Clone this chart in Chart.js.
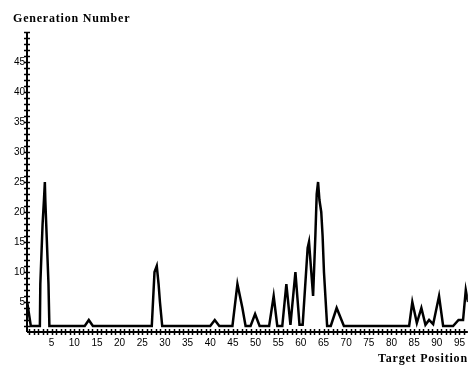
<!DOCTYPE html>
<html>
<head>
<meta charset="utf-8">
<script src="https://cdn.jsdelivr.net/npm/chart.js@4/dist/chart.umd.min.js"></script>
<style>
  html, body { margin: 0; padding: 0; background: #fff; }
  #wrap { width: 470px; height: 369px; position: relative; }
</style>
</head>
<body>
<div id="wrap"><canvas id="chart"></canvas></div>
<script>
// Target position (x) and generation number (y)
const positions = [
    -0.4, 0.4, 2.4, 2.5, 3.0, 3.3, 3.5, 3.6, 3.8, 4.3, 4.5,
    12.3, 13.2, 14.1,
    27.1, 27.3, 27.7, 28.2, 28.6, 28.9, 29.4,
    40.0, 41.0, 42.0,
    44.9, 46.0, 47.1, 47.8,
    48.9, 49.9, 50.9,
    53.0, 54.0, 54.8,
    55.9, 56.8, 57.7, 58.8, 59.7, 60.4, 61.5, 61.8, 62.7, 63.2, 63.5, 63.8, 64.1, 64.5, 64.8, 65.1, 65.8,
    66.6, 67.9, 69.5,
    83.9, 84.6, 85.6, 86.6, 87.5, 88.3, 89.2, 90.5, 91.4, 93.6, 94.8, 95.8, 96.4, 96.9
];
const generations = [
    5, 1, 1, 8, 18, 22, 25, 22, 18, 8, 1,
    1, 2, 1,
    1, 4, 10, 11, 8, 5, 1,
    1, 2, 1,
    1, 8, 4, 1,
    1, 3, 1,
    1, 6, 1,
    1, 8, 1.2, 10, 1.2, 1.2, 14, 15, 6, 16, 23, 25, 22, 20, 16, 10, 1,
    1, 4, 1,
    1, 5, 1.5, 4, 1.2, 2, 1.3, 6, 1, 1, 2, 2, 7, 5
];
const xTickLabels = [5, 10, 15, 20, 25, 30, 35, 40, 45, 50, 55, 60, 65, 70, 75, 80, 85, 90, 95];
const yTickLabels = [5, 10, 15, 20, 25, 30, 35, 40, 45];
const yMax = 50;

const points = positions.map((p, i) => ({ x: p, y: generations[i] }));

// axis lines with a cross mark at every unit, and the two axis titles
const axesPlugin = {
    id: 'axes',
    afterDraw(chart) {
        const ctx = chart.ctx;
        const xs = chart.scales.x;
        const ys = chart.scales.y;
        const y0 = ys.getPixelForValue(0);
        const x0 = chart.chartArea.left;
        ctx.save();
        ctx.strokeStyle = '#000';
        ctx.lineWidth = 2;
        ctx.beginPath();
        ctx.moveTo(x0, y0);
        ctx.lineTo(chart.chartArea.right, y0);
        ctx.moveTo(x0, y0);
        ctx.lineTo(x0, ys.getPixelForValue(yMax));
        ctx.stroke();

        ctx.lineWidth = 1.5;
        ctx.beginPath();
        for (let v = 0; v <= Math.floor(xs.max); v++) {
            const px = Math.round(xs.getPixelForValue(v)) + 0.5;
            ctx.moveTo(px, y0 - 3);
            ctx.lineTo(px, y0 + 3);
        }
        for (let v = 1; v <= yMax; v++) {
            const py = Math.round(ys.getPixelForValue(v)) + 0.5;
            ctx.moveTo(x0 - 3, py);
            ctx.lineTo(x0 + 3, py);
        }
        ctx.stroke();

        ctx.fillStyle = '#000';
        ctx.font = 'bold 12px "Liberation Serif"';
        if ('letterSpacing' in ctx) ctx.letterSpacing = '0.8px';
        ctx.textBaseline = 'alphabetic';
        ctx.textAlign = 'left';
        ctx.fillText('Generation Number', 13, 22);
        ctx.fillText('Target Position', 378, 362);
        ctx.restore();
    }
};

new Chart(document.getElementById('chart'), {
    type: 'line',
    data: {
        datasets: [{
            data: points,
            borderColor: '#000',
            borderWidth: 2.5,
            pointRadius: 0,
            tension: 0,
            fill: false
        }]
    },
    options: {
        responsive: true,
        maintainAspectRatio: false,
        animation: false,
        layout: { padding: { top: 32, left: 0, right: 0, bottom: 0 } },
        plugins: {
            legend: { display: false },
            tooltip: { enabled: false }
        },
        scales: {
            x: {
                type: 'linear',
                min: -0.44,
                max: 96.86,
                grid: { display: false, drawTicks: false },
                border: { display: false },
                afterBuildTicks: s => { s.ticks = xTickLabels.map(v => ({ value: v })); },
                ticks: {
                    autoSkip: false,
                    maxRotation: 0,
                    padding: 5,
                    color: '#000',
                    font: { family: '"Liberation Sans"', size: 10 }
                },
                afterFit: s => { s.height = 37; }
            },
            y: {
                min: 0,
                max: yMax,
                grid: { display: false, drawTicks: false },
                border: { display: false },
                afterBuildTicks: s => { s.ticks = yTickLabels.map(v => ({ value: v })); },
                ticks: {
                    autoSkip: false,
                    padding: 2,
                    color: '#000',
                    font: { family: '"Liberation Sans"', size: 10 }
                },
                afterFit: s => { s.width = 27; }
            }
        }
    },
    plugins: [axesPlugin]
});
</script>
</body>
</html>
